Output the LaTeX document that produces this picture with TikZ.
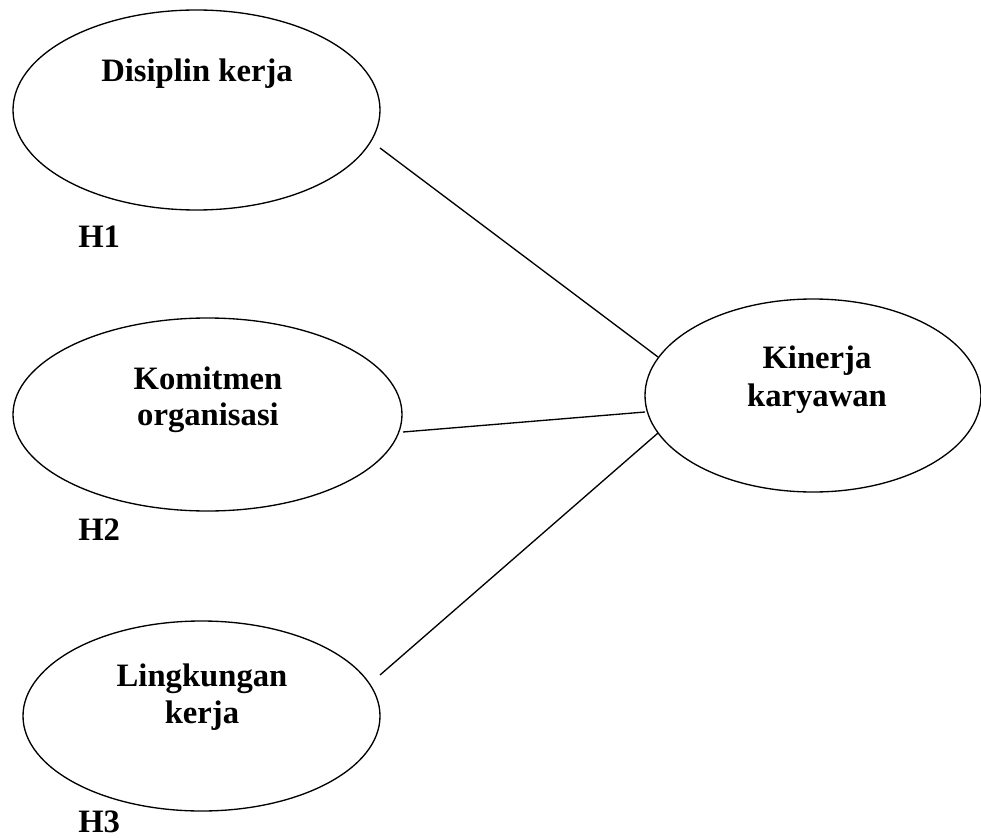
\documentclass[tikz,border=0pt]{standalone}
\usepackage{fontspec}
\setmainfont{Liberation Serif}
\usetikzlibrary{shapes.geometric,calc}
\begin{document}
\begin{tikzpicture}[x=0.75pt,y=-0.75pt,
  oval/.style={ellipse,draw,line width=1pt,inner sep=0pt,outer sep=0pt},
  lbl/.style={anchor=base,inner sep=0pt,font=\fontsize{24.5}{28}\selectfont\bfseries},
  hyp/.style={anchor=base west,inner sep=0pt,font=\fontsize{24.5}{28}\selectfont\bfseries},
  link/.style={draw,line width=1pt}]
\useasboundingbox (0,0) rectangle (981,838);
% ellipses
\node[oval,minimum width=275.25pt,minimum height=150pt] (d1) at (196.5,110) {};
\node[oval,minimum width=291.75pt,minimum height=144.75pt] (c2) at (207.5,414.5) {};
\node[oval,minimum width=267.75pt,minimum height=142.5pt] (l3) at (201.5,716) {};
\node[oval,minimum width=252pt,minimum height=144.75pt] (k) at (813,395.5) {};
% texts
\node[lbl] (t1) at (197,82) {Disiplin kerja};
\node[lbl] (t2a) at (208,389) {Komitmen};
\node[lbl] (t2b) at (208,425) {organisasi};
\node[lbl] (t3a) at (202,686) {Lingkungan};
\node[lbl] (t3b) at (202,723) {kerja};
\node[lbl] (tka) at (817,368) {Kinerja};
\node[lbl] (tkb) at (817,406) {karyawan};
\node[hyp] (h1) at (78,247) {H1};
\node[hyp] (h2) at (78,540) {H2};
\node[hyp] (h3) at (78,832) {H3};
% connectors
\draw[link] ($(d1.center)+(183.5,38)$) -- ($(k.center)+(-155,-38.5)$);
\draw[link] ($(c2.center)+(195.5,17.5)$) -- ($(k.center)+(-168,16.5)$);
\draw[link] ($(l3.center)+(178.5,-41)$) -- ($(k.center)+(-155,37.5)$);
\end{tikzpicture}
\end{document}
